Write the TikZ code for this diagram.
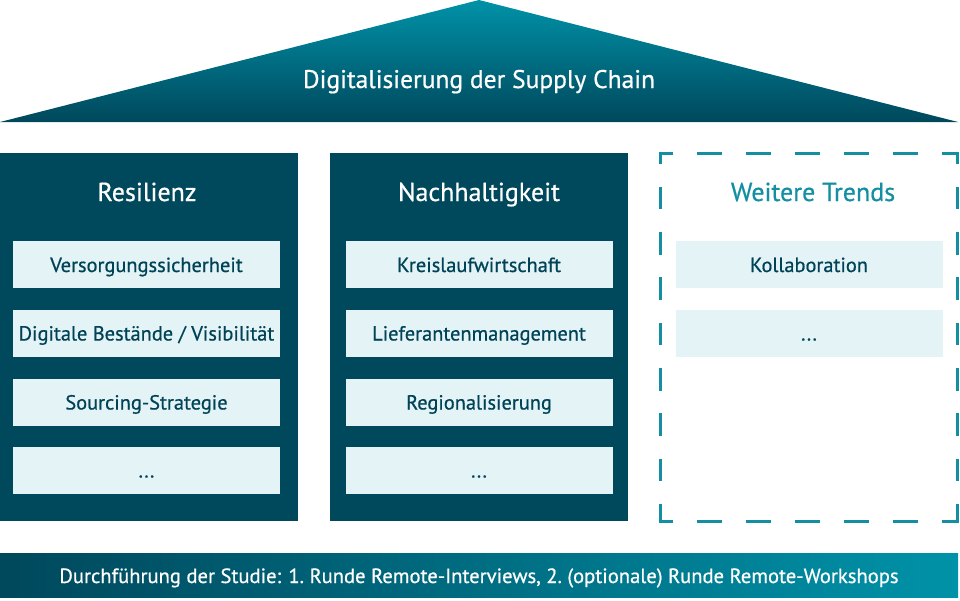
\documentclass[tikz,border=0pt]{standalone}
\usepackage{fontspec}
\setmainfont[FakeBold=0.6]{PT Sans}
\definecolor{darkteal}{RGB}{0,72,92}
\definecolor{midteal}{RGB}{0,146,168}
\definecolor{lightbox}{RGB}{227,243,246}
\definecolor{dashteal}{RGB}{20,143,162}
\definecolor{itemtext}{RGB}{0,66,86}
\tikzset{
  pillar/.style={fill=darkteal, draw=none, minimum width=298pt, minimum height=368pt, anchor=north west, inner sep=0pt},
  itembox/.style={fill=lightbox, draw=none, minimum width=267pt, minimum height=47pt, inner sep=0pt, text=itemtext, font=\fontsize{20.4}{24}\selectfont, text height=15pt, text depth=0pt},
  heading/.style={text=white, font=\fontsize{26}{30}\selectfont, inner sep=0pt, text height=18pt, text depth=0pt},
  hdash/.style={draw=dashteal, line width=3pt, dash pattern=on 24.5pt off 24.5pt, dash phase=10.5pt},
  vdash/.style={draw=dashteal, line width=3pt, dash pattern=on 22.5pt off 22.8pt, dash phase=10pt},
}
\begin{document}
\begin{tikzpicture}[x=1pt,y=-1pt]
\useasboundingbox (0,0) rectangle (960,600);
% roof
\coordinate (apex) at (479,0);
\coordinate (roofL) at (0,122);
\coordinate (roofR) at (958,122);
\shade[top color=midteal, bottom color=darkteal] (apex) -- (roofR) -- (roofL) -- cycle;
\node[heading, font=\fontsize{25.5}{30}\selectfont] (rooftitle) at (479,79) {Digitalisierung der Supply Chain};
% pillars
\node[pillar] (p1) at (0,153) {};
\node[pillar] (p2) at (330,153) {};
\node[heading] (h1) at (147,192) {Resilienz};
\node[heading] (h2) at (479,192) {Nachhaltigkeit};
\node[heading, text=dashteal] (h3) at (813,192) {Weitere Trends};
% dashed box
\coordinate (dTL) at (660,153);
\coordinate (dTR) at (957,153);
\coordinate (dBL) at (660,521);
\coordinate (dBR) at (957,521);
\draw[hdash] ([xshift=-1.5pt]dTL) -- ([xshift=1.5pt]dTR);
\draw[hdash] ([xshift=-1.5pt]dBL) -- ([xshift=1.5pt]dBR);
\draw[vdash] ([yshift=1.5pt]dTL) -- ([yshift=-1.5pt]dBL);
\draw[vdash] ([yshift=1.5pt]dTR) -- ([yshift=-1.5pt]dBR);
% items left
\node[itembox] (a1) at (146.5,264.5) {Versorgungssicherheit};
\node[itembox] (a2) at (146.5,333) {Digitale Bestände / Visibilität};
\node[itembox] (a3) at (146.5,402) {Sourcing-Strategie};
\node[itembox] (a4) at (146.5,470) {...};
% items middle
\node[itembox] (b1) at (479,264.5) {Kreislaufwirtschaft};
\node[itembox] (b2) at (479,333) {Lieferantenmanagement};
\node[itembox] (b3) at (479,402) {Regionalisierung};
\node[itembox] (b4) at (479,470) {...};
% items right
\node[itembox] (c1) at (809,264.5) {Kollaboration};
\node[itembox] (c2) at (809,333) {...};
% bottom bar
\coordinate (barTL) at (0,553);
\coordinate (barBR) at (958,597);
\shade[left color=darkteal, right color=midteal] (barTL) rectangle (barBR);
\node[text=white, font=\fontsize{20.6}{24}\selectfont, inner sep=0pt, text height=15pt, text depth=0pt] (bartext) at (479,575.5) {Durchführung der Studie: 1.~Runde Remote-Interviews, 2.~(optionale) Runde Remote-Workshops};
\end{tikzpicture}
\end{document}
